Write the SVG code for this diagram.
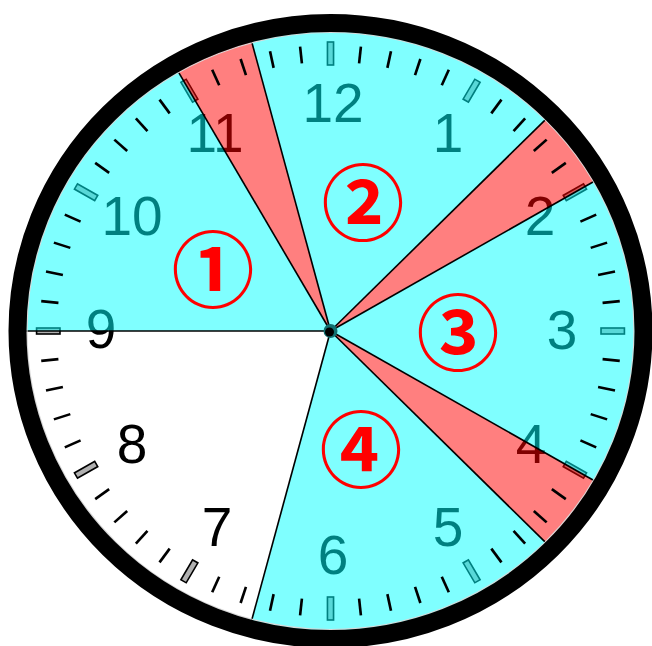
<svg xmlns="http://www.w3.org/2000/svg" xmlns:xlink="http://www.w3.org/1999/xlink" width="652" height="646" viewBox="0 0 652 646">
<defs>
<style>
.num{font-family:"Liberation Sans",Arial,sans-serif;font-size:55px;fill:#000;text-anchor:middle}
.tick{stroke:#000;stroke-width:2.6}
.hour{fill:#b0b0b0;stroke:#000;stroke-width:1.6}
.cy{fill:#00ffff;fill-opacity:0.5}
.rd{fill:#ff0000;fill-opacity:0.5}
.edge{stroke:#000;stroke-width:1.6}
.circ{font-family:"Noto Sans CJK JP",sans-serif;font-weight:bold;font-size:83px;fill:#f00;text-anchor:middle;dominant-baseline:central}
</style>
<line id="t" class="tick" x1="0" y1="-269" x2="0" y2="-286"/>
<rect id="h" class="hour" x="-3" y="-289" width="6" height="23"/>
</defs>
<rect width="652" height="646" fill="#fff"/>
<g id="face" transform="translate(330.5 331) scale(1.017 1)">
<circle r="306" fill="#fff"/>
<g id="hourmarks">
<use href="#h"/><use href="#h" transform="rotate(30)"/><use href="#h" transform="rotate(60)"/><use href="#h" transform="rotate(90)"/><use href="#h" transform="rotate(120)"/><use href="#h" transform="rotate(150)"/><use href="#h" transform="rotate(180)"/><use href="#h" transform="rotate(210)"/><use href="#h" transform="rotate(240)"/><use href="#h" transform="rotate(270)"/><use href="#h" transform="rotate(300)"/><use href="#h" transform="rotate(330)"/>
</g>
</g>
<g id="numbers">
<text class="num" x="333" y="122">12</text>
<text class="num" x="448" y="152">1</text>
<text class="num" x="540" y="235">2</text>
<text class="num" x="562" y="349">3</text>
<text class="num" x="531" y="463">4</text>
<text class="num" x="448" y="546">5</text>
<text class="num" x="333" y="574">6</text>
<text class="num" x="217" y="546">7</text>
<text class="num" x="132" y="463">8</text>
<text class="num" x="101" y="348">9</text>
<text class="num" x="132" y="235">10</text>
<text class="num" x="215" y="152">11</text>
</g>
<g id="sectors" transform="translate(330.5 331) scale(1.017 1)">
<path id="sector1" class="cy" d="M0,0 L-305,0 A305,305 0 0 1 -152.5,-264.14 Z"/>
<path id="sector2" class="cy" d="M0,0 L-78.94,-294.61 A305,305 0 0 1 215.67,-215.67 Z"/>
<path id="sector3" class="cy" d="M0,0 L264.14,-152.5 A305,305 0 0 1 264.14,152.5 Z"/>
<path id="sector4" class="cy" d="M0,0 L215.67,215.67 A305,305 0 0 1 -78.94,294.61 Z"/>
<path id="red1" class="rd" d="M0,0 L-152.5,-264.14 A305,305 0 0 1 -78.94,-294.61 Z"/>
<path id="red2" class="rd" d="M0,0 L215.67,-215.67 A305,305 0 0 1 264.14,-152.5 Z"/>
<path id="red3" class="rd" d="M0,0 L264.14,152.5 A305,305 0 0 1 215.67,215.67 Z"/>
</g>
<g id="connectors" transform="translate(330.5 331) scale(1.017 1)">
<line class="edge" x1="0" y1="0" x2="-305" y2="0"/>
<line class="edge" x1="0" y1="0" x2="-152.5" y2="-264.14"/>
<line class="edge" x1="0" y1="0" x2="-78.94" y2="-294.61"/>
<line class="edge" x1="0" y1="0" x2="215.67" y2="-215.67"/>
<line class="edge" x1="0" y1="0" x2="264.14" y2="-152.5"/>
<line class="edge" x1="0" y1="0" x2="264.14" y2="152.5"/>
<line class="edge" x1="0" y1="0" x2="215.67" y2="215.67"/>
<line class="edge" x1="0" y1="0" x2="-78.94" y2="294.61"/>
</g>
<g id="ticks" transform="translate(330.5 331) scale(1.017 1)">
<use href="#t" transform="rotate(6)"/><use href="#t" transform="rotate(12)"/><use href="#t" transform="rotate(18)"/><use href="#t" transform="rotate(24)"/>
<use href="#t" transform="rotate(36)"/><use href="#t" transform="rotate(42)"/><use href="#t" transform="rotate(48)"/><use href="#t" transform="rotate(54)"/>
<use href="#t" transform="rotate(66)"/><use href="#t" transform="rotate(72)"/><use href="#t" transform="rotate(78)"/><use href="#t" transform="rotate(84)"/>
<use href="#t" transform="rotate(96)"/><use href="#t" transform="rotate(102)"/><use href="#t" transform="rotate(108)"/><use href="#t" transform="rotate(114)"/>
<use href="#t" transform="rotate(126)"/><use href="#t" transform="rotate(132)"/><use href="#t" transform="rotate(138)"/><use href="#t" transform="rotate(144)"/>
<use href="#t" transform="rotate(156)"/><use href="#t" transform="rotate(162)"/><use href="#t" transform="rotate(168)"/><use href="#t" transform="rotate(174)"/>
<use href="#t" transform="rotate(186)"/><use href="#t" transform="rotate(192)"/><use href="#t" transform="rotate(198)"/><use href="#t" transform="rotate(204)"/>
<use href="#t" transform="rotate(216)"/><use href="#t" transform="rotate(222)"/><use href="#t" transform="rotate(228)"/><use href="#t" transform="rotate(234)"/>
<use href="#t" transform="rotate(246)"/><use href="#t" transform="rotate(252)"/><use href="#t" transform="rotate(258)"/><use href="#t" transform="rotate(264)"/>
<use href="#t" transform="rotate(276)"/><use href="#t" transform="rotate(282)"/><use href="#t" transform="rotate(288)"/><use href="#t" transform="rotate(294)"/>
<use href="#t" transform="rotate(306)"/><use href="#t" transform="rotate(312)"/><use href="#t" transform="rotate(318)"/><use href="#t" transform="rotate(324)"/>
<use href="#t" transform="rotate(336)"/><use href="#t" transform="rotate(342)"/><use href="#t" transform="rotate(348)"/><use href="#t" transform="rotate(354)"/>
</g>
<g id="hub">
<circle cx="330.5" cy="331" r="7" fill="#127070"/>
<circle cx="329.5" cy="332" r="4.5" fill="#000"/>
</g>
<g id="labels">
<text id="label1" class="circ" x="213" y="265">①</text>
<text id="label2" class="circ" x="363" y="198">②</text>
<text id="label3" class="circ" x="458" y="328">③</text>
<text id="label4" class="circ" x="361" y="445">④</text>
</g>
<g id="rim">
<ellipse cx="330.5" cy="331" rx="303.5" ry="298.5" fill="none" stroke="#d8d8d8" stroke-width="1.2"/>
<ellipse cx="330.5" cy="331" rx="313" ry="308" fill="none" stroke="#000" stroke-width="18"/>
</g>
</svg>
